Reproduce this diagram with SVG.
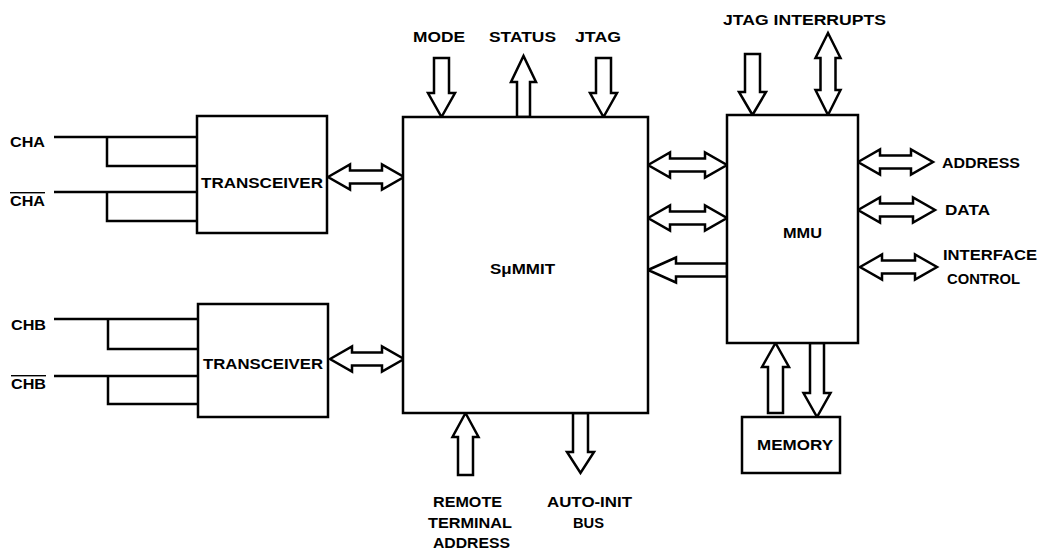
<svg xmlns="http://www.w3.org/2000/svg" width="1042" height="550" viewBox="0 0 1042 550">
<style>
.box{fill:#fff;stroke:#000;stroke-width:2.5}
.ln{fill:none;stroke:#000;stroke-width:2.5}
.ar{fill:#fff;stroke:#000;stroke-width:2.5;stroke-linejoin:miter}
text{font-family:"Liberation Sans",Arial,sans-serif;font-weight:bold;font-size:14px;fill:#000}
.ov{text-decoration:overline}
</style>
<rect width="1042" height="550" fill="#fff"/>
<g id="connectors">
<!-- channel lines -->
<polyline class="ln" points="54,137 197,137"/>
<polyline class="ln" points="107,137 107,166 197,166"/>
<polyline class="ln" points="54,192 197,192"/>
<polyline class="ln" points="107,192 107,221 197,221"/>
<polyline class="ln" points="54,319 198,319"/>
<polyline class="ln" points="108,319 108,349 198,349"/>
<polyline class="ln" points="54,376 198,376"/>
<polyline class="ln" points="108,376 108,404 198,404"/>
<!-- transceiver <-> SuMMIT -->
<polygon class="ar" points="328,177 350,164.5 350,170.5 382,170.5 382,164.5 404,177 382,189.5 382,183.5 350,183.5 350,189.5"/>
<polygon class="ar" points="330,359 352,346.5 352,352.5 382,352.5 382,346.5 404,359 382,371.5 382,365.5 352,365.5 352,371.5"/>
<!-- SuMMIT <-> MMU -->
<polygon class="ar" points="648,165 670,152.5 670,158.5 705,158.5 705,152.5 727,165 705,177.5 705,171.5 670,171.5 670,177.5"/>
<polygon class="ar" points="648,218 670,205.5 670,211.5 705,211.5 705,205.5 727,218 705,230.5 705,224.5 670,224.5 670,230.5"/>
<polygon class="ar" points="648,270 676,257.5 676,263.5 727,263.5 727,276.5 676,276.5 676,282.5"/>
<!-- MMU right side -->
<polygon class="ar" points="858,162 880,149.5 880,155.5 911,155.5 911,149.5 933,162 911,174.5 911,168.5 880,168.5 880,174.5"/>
<polygon class="ar" points="858,210 880,197.5 880,203.5 913,203.5 913,197.5 935,210 913,222.5 913,216.5 880,216.5 880,222.5"/>
<polygon class="ar" points="860,267 882,254.5 882,260.5 915,260.5 915,254.5 937,267 915,279.5 915,273.5 882,273.5 882,279.5"/>
<!-- top arrows SuMMIT -->
<polygon class="ar" points="434,58 449,58 449,93 455,93 441.5,117 428,93 434,93"/>
<polygon class="ar" points="517,117 517,82 511,82 523.5,56 536,82 530,82 530,117"/>
<polygon class="ar" points="596,58 611,58 611,93 617,93 603.5,117 590,93 596,93"/>
<!-- top arrows MMU -->
<polygon class="ar" points="745,54 760,54 760,92 766,92 752.5,115 739,92 745,92"/>
<polygon class="ar" points="828,33 840.5,58 835.5,58 835.5,90 840.5,90 828,115 815.5,90 820.5,90 820.5,58 815.5,58"/>
<!-- MMU <-> memory -->
<polygon class="ar" points="768,413 768,367 762,367 775.5,343 789,367 783,367 783,413"/>
<polygon class="ar" points="810,343 824,343 824,393 830.5,393 817,417 803.5,393 810,393"/>
<!-- bottom arrows SuMMIT -->
<polygon class="ar" points="458,475 458,437 452.5,437 465.5,413 478.5,437 473,437 473,475"/>
<polygon class="ar" points="573,413 588,413 588,452 594,452 580.5,473 567,452 573,452"/>
</g>
<g id="transceiver1">
<rect class="box" x="197" y="116" width="130" height="117"/>
<text x="201" y="188" textLength="122" lengthAdjust="spacingAndGlyphs">TRANSCEIVER</text>
</g>
<g id="transceiver2">
<rect class="box" x="198" y="304" width="130" height="113"/>
<text x="203" y="369" textLength="120" lengthAdjust="spacingAndGlyphs">TRANSCEIVER</text>
</g>
<g id="summit">
<rect class="box" x="403" y="117" width="245" height="296"/>
<text x="490" y="274" textLength="65" lengthAdjust="spacingAndGlyphs">SμMMIT</text>
</g>
<g id="mmu">
<rect class="box" x="727" y="115" width="131" height="228"/>
<text x="783" y="238" textLength="39" lengthAdjust="spacingAndGlyphs">MMU</text>
</g>
<g id="memory">
<rect class="box" x="742" y="417" width="98" height="56"/>
<text x="757" y="450" textLength="76" lengthAdjust="spacingAndGlyphs">MEMORY</text>
</g>
<g id="labels">
<text x="10" y="147" textLength="35" lengthAdjust="spacingAndGlyphs">CHA</text>
<text class="ov" x="10" y="206" textLength="35" lengthAdjust="spacingAndGlyphs">CHA</text>
<text x="11" y="330" textLength="35" lengthAdjust="spacingAndGlyphs">CHB</text>
<text class="ov" x="11" y="389" textLength="35" lengthAdjust="spacingAndGlyphs">CHB</text>
<text x="413" y="42" textLength="52" lengthAdjust="spacingAndGlyphs">MODE</text>
<text x="489" y="42" textLength="67" lengthAdjust="spacingAndGlyphs">STATUS</text>
<text x="575" y="42" textLength="46" lengthAdjust="spacingAndGlyphs">JTAG</text>
<text x="723" y="25" textLength="163" lengthAdjust="spacingAndGlyphs">JTAG INTERRUPTS</text>
<text x="942" y="168" textLength="78" lengthAdjust="spacingAndGlyphs">ADDRESS</text>
<text x="945" y="215" textLength="45" lengthAdjust="spacingAndGlyphs">DATA</text>
<text x="943" y="260" textLength="94" lengthAdjust="spacingAndGlyphs">INTERFACE</text>
<text x="947" y="284" textLength="73" lengthAdjust="spacingAndGlyphs">CONTROL</text>
<text x="433" y="507" textLength="69" lengthAdjust="spacingAndGlyphs">REMOTE</text>
<text x="428" y="528" textLength="84" lengthAdjust="spacingAndGlyphs">TERMINAL</text>
<text x="433" y="548" textLength="77" lengthAdjust="spacingAndGlyphs">ADDRESS</text>
<text x="547" y="507" textLength="85" lengthAdjust="spacingAndGlyphs">AUTO-INIT</text>
<text x="573" y="528" textLength="31" lengthAdjust="spacingAndGlyphs">BUS</text>
</g>
</svg>
